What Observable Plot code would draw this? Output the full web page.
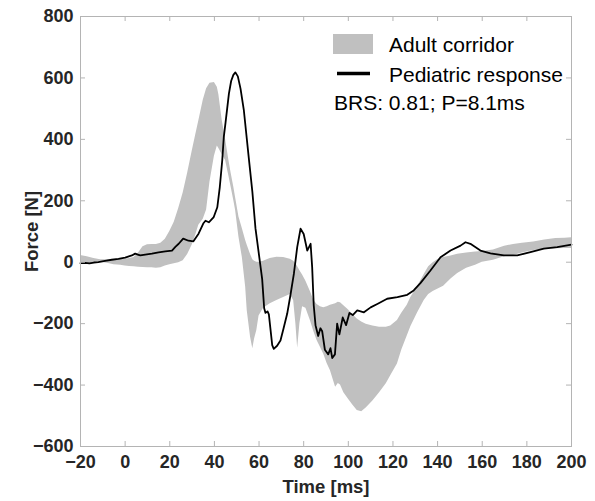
<!DOCTYPE html>
<html>
<head>
<meta charset="utf-8">
<script src="https://cdn.jsdelivr.net/npm/d3@7"></script>
<script src="https://cdn.jsdelivr.net/npm/@observablehq/plot@0.6"></script>
<style>
  html, body { margin: 0; padding: 0; background: #fff; }
  #wrap { position: relative; width: 595px; height: 501px; }
  #chart svg { font-family: "Liberation Sans", Arial, sans-serif; }
  #chart svg g[aria-label$="tick label"] text, #chart svg g[aria-label$="label"] text { font-weight: bold; }
  #legend { position: absolute; left: 0; top: 0; font-family: "Liberation Sans", Arial, sans-serif; }
</style>
</head>
<body>
<div id="wrap">
  <div id="chart"></div>
  <svg id="legend" width="595" height="130"></svg>
</div>
<script>
// ---- Tick labels ----
const xTicks = [-20, 0, 20, 40, 60, 80, 100, 120, 140, 160, 180, 200];
const yTicks = [-600, -400, -200, 0, 200, 400, 600, 800];

// ---- Adult corridor (time in ms, lower / upper bound in N) ----
const corridorTime = [-20,-17,-14,-11,-8,-5,-2,0,2,4,6,8,10,12,14,16,18,20,22,24,26,28,30,31.5,33,35,36.5,38,40,41.3,42,43.5,45,46.5,47.5,48.7,49.5,51,52.5,54,54.7,56.2,57.2,58,59,60,62,65,68,71,74,75.5,76.5,77.3,78.3,79.5,81,83,84.5,86,87.5,89,90.5,92,94.3,95.5,96.5,98,100,102,104,106,108,111,114,117,119,122,124,126.4,128,131,134,136,138,140,142.7,146,149,153,157,160,165,170,174,178,183,188,193,197,200];
const corridorLower = [-5,-5,-3,0,-3,-8,-10,-12,-14,-15,-16,-17,-18,-18,-20,-18,-12,-8,-5,-2,5,25,55,85,120,140,170,260,345,378,370,350,331,280,244,200,168,81,16,-81,-157,-244,-282,-250,-222,-175,-150,-135,-125,-115,-105,-125,-200,-280,-200,-145,-150,-190,-225,-255,-277,-300,-330,-353,-407,-395,-400,-425,-445,-465,-483,-487,-475,-452,-425,-396,-370,-331,-285,-240,-210,-165,-125,-105,-95,-88,-78,-55,-37,-20,-10,0,6,18,22,30,38,42,44,45,45];
const corridorUpper = [22,18,12,8,8,8,10,10,12,15,30,50,57,58,58,62,75,100,130,175,225,290,360,410,460,527,565,583,585,570,545,461,400,331,290,244,210,147,110,71,55,25,8,3,0,0,3,12,16,15,10,3,-5,-15,-28,-42,-62,-95,-124,-138,-145,-148,-145,-140,-135,-130,-132,-142,-155,-170,-185,-195,-202,-208,-212,-212,-208,-190,-165,-140,-115,-80,-40,-15,-2,8,15,20,26,30,33,35,40,52,58,62,66,72,77,78,80];

// ---- Pediatric response (time in ms, force in N) ----
const pedTime = [-20,-18,-16,-14,-12,-9,-6,-3,0,3,4.5,6,6.8,9,12,15,18,21,22.5,24,26,28.4,30.6,32.9,35,36,37.5,39.7,41.3,42.4,43.5,44.2,45,46.5,47.5,48.5,49.4,50.5,51.7,53.2,55.4,57,58.4,59.5,61.4,62.3,62.9,63.8,64.4,65.9,66.6,68.1,69.6,71,72.6,74,75.6,77.1,78.6,80,81.6,83.1,83.8,84.5,85.3,86.5,87.5,88.3,89.5,91,92,92.8,94,95,96,97.5,99,100.5,102,104,107,110,113,117.4,122,126.4,129.3,132.3,136.8,141.3,145.8,150.3,152.5,154.7,159.2,163.7,169.7,175.7,181.6,187.6,193.6,200];
const pedForce = [-3,-2,-4,-1,0,4,8,11,15,22,28,24,22,25,28,32,35,38,50,60,77,70,68,93,126,135,130,147,179,244,331,407,455,549,590,610,618,605,565,494,340,230,110,50,-55,-150,-165,-160,-170,-270,-282,-272,-255,-215,-168,-110,-38,49,109,92,38,60,-16,-140,-205,-240,-215,-225,-285,-300,-280,-312,-300,-200,-235,-180,-205,-165,-172,-157,-163,-147,-136,-119,-114,-106,-92,-68,-27,16,38,54,65,60,38,29,22,22,33,44,49,57];

// ---- Legend texts ----
const legendCorridor = "Adult corridor";
const legendPediatric = "Pediatric response";
const annotation = "BRS: 0.81; P=8.1ms";

const corridor = corridorTime.map((t, i) => ({t, lo: corridorLower[i], hi: corridorUpper[i]}));
const pediatric = pedTime.map((t, i) => ({t, f: pedForce[i]}));

const W = 595, H = 501, mL = 80, mR = 24, mT = 16, mB = 55;
const innerW = W - mL - mR, innerH = H - mT - mB;
const gridGray = "#b4b4b4";
const textCol = "#262626";

const chart = Plot.plot({
  width: W, height: H,
  marginLeft: mL, marginRight: mR, marginTop: mT, marginBottom: mB,
  x: {domain: [-20, 200]},
  y: {domain: [-600, 800]},
  style: {fontFamily: '"Liberation Sans", Arial, sans-serif', color: textCol, background: "#fff"},
  marks: [
    Plot.areaY(corridor, {x: "t", y1: "lo", y2: "hi", fill: "#c0c0c0", curve: "linear"}),
    Plot.line(pediatric, {x: "t", y: "f", stroke: "#000", strokeWidth: 1.8, curve: "linear"}),
    Plot.frame({stroke: gridGray, strokeWidth: 1}),
    // inward tick marks on all four sides
    Plot.ruleY(yTicks, {y: d => d, stroke: gridGray, insetRight: innerW - 5}),
    Plot.ruleY(yTicks, {y: d => d, stroke: gridGray, insetLeft: innerW - 5}),
    Plot.ruleX(xTicks, {x: d => d, stroke: gridGray, insetBottom: innerH - 5}),
    Plot.ruleX(xTicks, {x: d => d, stroke: gridGray, insetTop: innerH - 5}),
    Plot.axisX(xTicks, {anchor: "bottom", tickSize: 0, tickPadding: 9, fontSize: 18, fontWeight: "bold", fill: textCol,
      label: "Time [ms]", labelAnchor: "center", labelArrow: "none", labelOffset: 46}),
    Plot.axisY(yTicks, {anchor: "left", tickSize: 0, tickPadding: 7, fontSize: 18, fontWeight: "bold", fill: textCol,
      label: "Force [N]", labelAnchor: "center", labelArrow: "none", labelOffset: 56})
  ]
});
document.getElementById("chart").appendChild(chart);
chart.querySelectorAll('g[aria-label="x-axis label"] text, g[aria-label="y-axis label"] text').forEach(t => {
  t.setAttribute("font-size", "18.5"); t.setAttribute("font-weight", "bold"); t.style.fontSize = "18.5px";
});

// ---- Legend (overlay) ----
const lg = d3.select("#legend");
lg.append("rect").attr("x", 333).attr("y", 34).attr("width", 40).attr("height", 20).attr("fill", "#c0c0c0");
lg.append("text").attr("x", 389).attr("y", 52).attr("font-size", 21).attr("fill", "#000").text(legendCorridor);
lg.append("line").attr("x1", 337).attr("x2", 370).attr("y1", 73.5).attr("y2", 73.5).attr("stroke", "#000").attr("stroke-width", 3.5);
lg.append("text").attr("x", 389).attr("y", 82).attr("font-size", 21).attr("fill", "#000").text(legendPediatric);
lg.append("text").attr("x", 334).attr("y", 110).attr("font-size", 21).attr("fill", "#000").text(annotation);
</script>
</body>
</html>
